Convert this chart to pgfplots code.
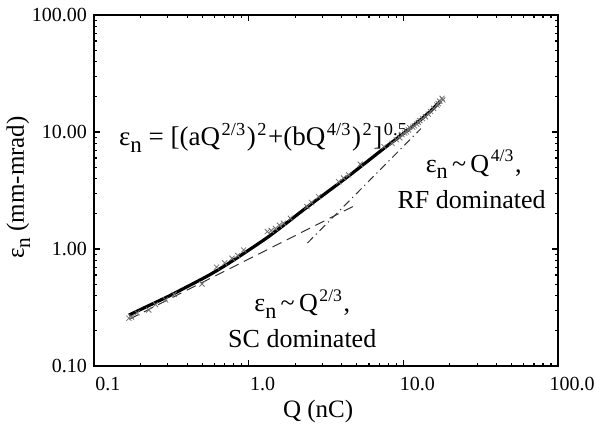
\documentclass[border=0pt]{standalone}
\usepackage{pgfplots}
\pgfplotsset{compat=1.18}
\usepackage{fontspec}
\setmainfont{Liberation Serif}
\usepackage{graphicx}
\newcommand{\lo}[1]{\raisebox{-0.55ex}{\scalebox{0.85}{#1}}}
\newcommand{\hi}[1]{\kern0.8pt\raisebox{0.85ex}{\scalebox{0.68}{#1}}\kern0.8pt}
\newcommand{\annot}{\fontsize{13}{15}\selectfont}

\begin{document}
\begin{tikzpicture}
\begin{axis}[
  at={(0,0)}, anchor=south west,
  scale only axis, width=232pt, height=175.5pt,
  xmode=log, ymode=log,
  xmin=0.1, xmax=100, ymin=0.1, ymax=100,
  xtick={0.1,1,10,100}, xticklabels={0.1,1.0,10.0,100.0},
  ytick={0.1,1,10,100}, yticklabels={0.10,1.00,10.00,100.00},
  minor xtick={0.2,0.3,0.4,0.5,0.6,0.7,0.8,0.9,2,3,4,5,6,7,8,9,20,30,40,50,60,70,80,90},
  minor ytick={0.2,0.3,0.4,0.5,0.6,0.7,0.8,0.9,2,3,4,5,6,7,8,9,20,30,40,50,60,70,80,90},
  axis line style={line width=1pt},
  major tick length=3pt, minor tick length=1.6pt,
  every tick/.style={black, line width=0.6pt},
  tick label style={font=\fontsize{10}{12}\selectfont},
  xticklabel style={xshift=7pt, yshift=-2pt},
  label style={font=\fontsize{12.5}{15}\selectfont},
  xlabel={Q (nC)},
  ylabel={ε\lo{n} (mm-mrad)},
  xlabel style={at={(axis description cs:0.483,-0.148)}, anchor=base},
  ylabel style={at={(axis description cs:-0.151,0.5085)}, anchor=base},
]

% SC asymptote, a Q^(2/3)
\addplot[black!80, line width=0.5pt, dash pattern=on 5pt off 3pt]
  coordinates {(0.17,0.2518) (5.0,2.398)};
% RF asymptote, b Q^(4/3)
\addplot[black!80, line width=0.5pt, dash pattern=on 4pt off 2pt on 0.6pt off 2pt]
  coordinates {(2.4,1.125) (13,10.70)};

% simulation points
\addplot[only marks, mark=x, mark size=1.8pt, black!55, mark options={line width=0.4pt}]
  coordinates {(0.168,0.256) (0.175,0.262) (0.19,0.285) (0.226,0.301) (0.25,0.335)
  (0.29,0.367) (0.33,0.41) (0.499,0.502) (0.62,0.70) (0.70,0.76) (0.78,0.833)
  (0.85,0.88) (0.928,0.98) (1.32,1.41) (1.40,1.44) (1.49,1.50) (1.58,1.60)
  (1.68,1.66) (1.86,1.83) (2.38,2.30) (2.55,2.50) (2.83,2.80) (3.82,3.75)
  (4.1,4.05) (4.43,4.30) (5.27,5.3) (7.5,7.5) (8.44,8.0) (9.0,8.6) (9.5,8.9)
  (9.8,9.5) (10.2,9.8) (10.5,10.0) (10.8,10.4) (11.0,10.9) (11.5,11.0)
  (11.8,11.3) (12.2,11.7) (12.5,12.1) (12.8,12.5) (13.3,13.0) (13.9,13.5)
  (14.5,14.2) (15.0,15.0) (15.7,15.9) (16.5,17.0) (16.8,17.5) (17.2,18.3)
  (17.8,19.4) (18.0,18.8)};

% fit curve
\addplot[black, line width=1.6pt, smooth]
  coordinates {(0.168,0.272) (0.215,0.318) (0.304,0.395) (0.390,0.468)
  (0.551,0.595) (0.743,0.755) (1.05,1.02) (1.35,1.28) (1.73,1.64) (2.21,2.11)
  (2.83,2.70) (3.63,3.45) (4.65,4.42) (5.97,5.72) (7.65,7.40) (9.6,9.30)
  (11.4,11.1) (14.6,14.6) (17.5,18.5)};

\node[anchor=base west, inner sep=0, font=\fontsize{13.5}{16}\selectfont] at (axis cs:0.1445,7.6)
  {ε\lo{n} = [(aQ\hi{2/3})\hi{2}+(bQ\hi{4/3})\hi{2}]\hi{0.5}};
\node[anchor=base, inner sep=0, font=\annot] at (axis cs:28.5,4.55)
  {ε\lo{n}\,\textasciitilde\,Q\hi{4/3},};
\node[anchor=base, inner sep=0, font=\annot] at (axis cs:27.6,2.24) {RF dominated};
\node[anchor=base, inner sep=0, font=\annot] at (axis cs:2.22,0.290)
  {ε\lo{n}\,\textasciitilde\,Q\hi{2/3},};
\node[anchor=base, inner sep=0, font=\annot] at (axis cs:2.22,0.1425) {SC dominated};
\end{axis}
\pgfresetboundingbox
\path[use as bounding box] (-47pt,-30pt) rectangle (250.5pt,183pt);
\end{tikzpicture}
\end{document}
